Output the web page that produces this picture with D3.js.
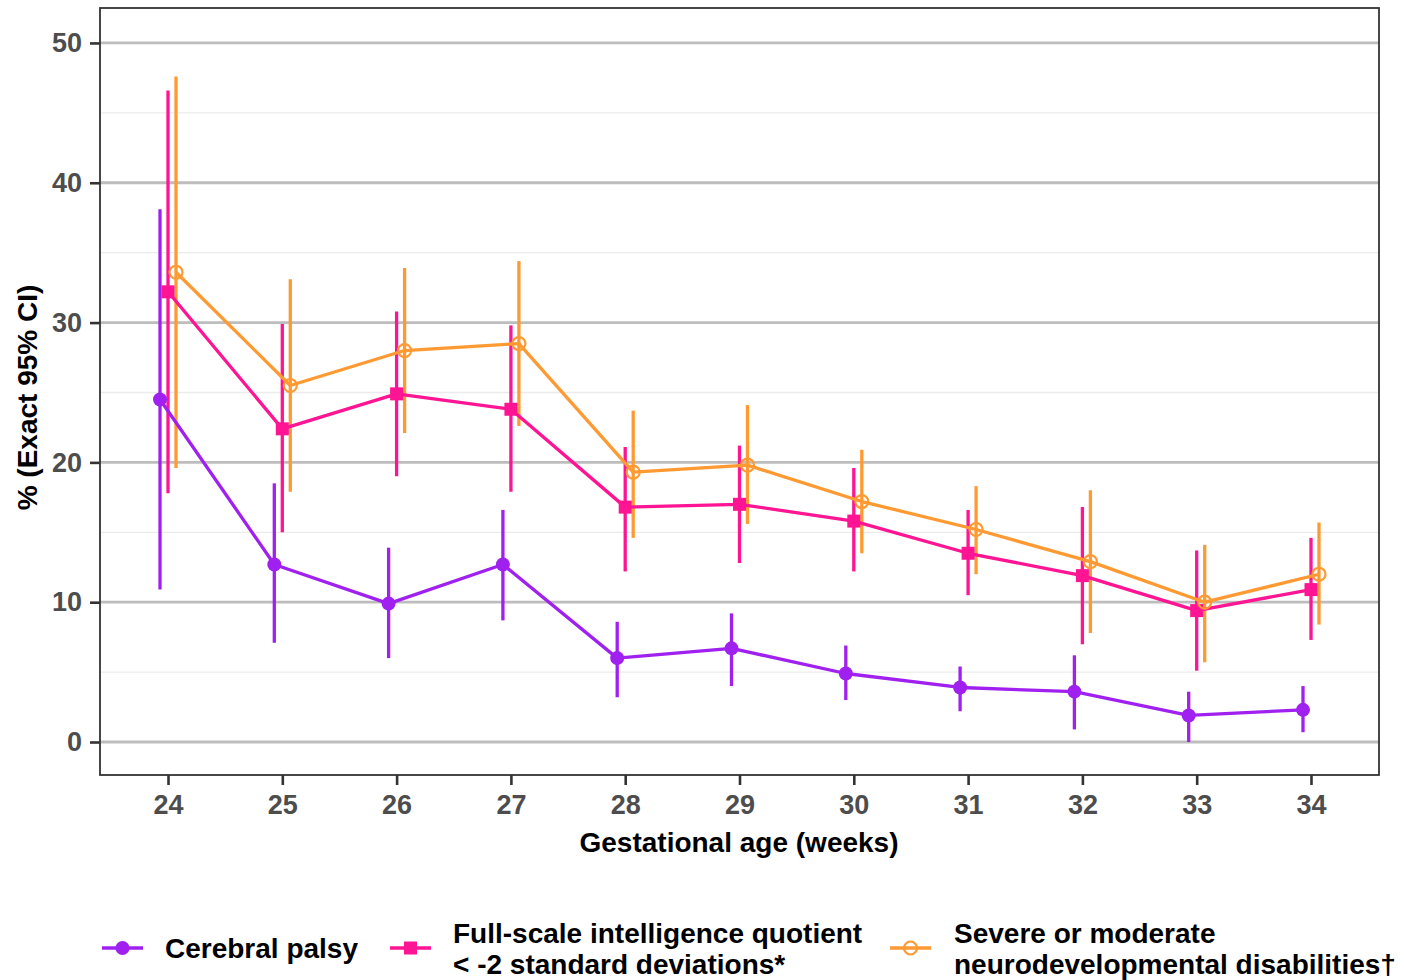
<!DOCTYPE html>
<html>
<head>
<meta charset="utf-8">
<script src="https://cdn.jsdelivr.net/npm/d3@7"></script>
<style>
  html, body { margin: 0; padding: 0; background: #fff; }
  svg { display: block; font-family: "Liberation Sans", Arial, sans-serif; }
</style>
</head>
<body>
<svg id="chart" width="1404" height="980"></svg>
<script>
// ---- Data ----
const weeks = [24, 25, 26, 27, 28, 29, 30, 31, 32, 33, 34];

const cpEst   = [24.5, 12.7, 9.9, 12.7, 6.0, 6.7, 4.9, 3.9, 3.6, 1.9, 2.3];
const cpLow   = [10.9, 7.1, 6.0, 8.7, 3.2, 4.0, 3.0, 2.2, 0.9, 0.0, 0.7];
const cpHigh  = [38.1, 18.5, 13.9, 16.6, 8.6, 9.2, 6.9, 5.4, 6.2, 3.6, 4.0];

const iqEst   = [32.2, 22.4, 24.9, 23.8, 16.8, 17.0, 15.8, 13.5, 11.9, 9.4, 10.9];
const iqLow   = [17.8, 15.0, 19.0, 17.9, 12.2, 12.8, 12.2, 10.5, 7.0, 5.1, 7.3];
const iqHigh  = [46.6, 29.9, 30.8, 29.8, 21.1, 21.2, 19.6, 16.6, 16.8, 13.7, 14.6];

const ndEst   = [33.6, 25.5, 28.0, 28.5, 19.3, 19.8, 17.2, 15.2, 12.9, 10.0, 12.0];
const ndLow   = [19.6, 17.9, 22.1, 22.6, 14.6, 15.6, 13.5, 12.0, 7.8, 5.7, 8.4];
const ndHigh  = [47.6, 33.1, 33.9, 34.4, 23.7, 24.1, 20.9, 18.3, 18.0, 14.1, 15.7];

const seriesNames = ["Cerebral palsy",
  ["Full-scale intelligence quotient", "< -2 standard deviations*"],
  ["Severe or moderate", "neurodevelopmental disabilities\u2020"]];
const seriesColors = ["#A020F0", "#FF1493", "#FF9A33"];
const seriesShapes = ["dot", "square", "ring"];
const yTicks = [0, 10, 20, 30, 40, 50];
const yMinor = [5, 15, 25, 35, 45];
const xLabel = "Gestational age (weeks)";
const yLabel = "% (Exact 95% CI)";

const series = [
  { est: cpEst, low: cpLow, high: cpHigh },
  { est: iqEst, low: iqLow, high: iqHigh },
  { est: ndEst, low: ndLow, high: ndHigh }
].map((s, i) => ({
  name: seriesNames[i], color: seriesColors[i], shape: seriesShapes[i],
  points: weeks.map((w, j) => ({ w, est: s.est[j], low: s.low[j], high: s.high[j] }))
}));

// ---- Layout ----
const svg = d3.select("#chart");
const P = { left: 100, right: 1379, top: 8, bottom: 775 };

const x = d3.scaleLinear().domain([23.405, 34.595]).range([P.left, P.right]);
const y = d3.scaleLinear().domain([-2.36, 52.5]).range([P.bottom, P.top]);
const dodge = [-8, 0, 8];
const FONT = "Liberation Sans, Arial, sans-serif";

// grid
const g = svg.append("g");
g.selectAll("line.minor").data(yMinor).join("line")
  .attr("x1", P.left).attr("x2", P.right)
  .attr("y1", d => y(d)).attr("y2", d => y(d))
  .attr("stroke", "#ebebeb").attr("stroke-width", 1.3);
g.selectAll("line.major").data(yTicks).join("line")
  .attr("x1", P.left).attr("x2", P.right)
  .attr("y1", d => y(d)).attr("y2", d => y(d))
  .attr("stroke", "#bdbdbd").attr("stroke-width", 2.8);

// axes
const yAxis = d3.axisLeft(y).tickValues(yTicks).tickSize(10).tickPadding(8);
const ya = svg.append("g").attr("transform", `translate(${P.left},0)`).call(yAxis);
ya.select(".domain").remove();
ya.selectAll(".tick line").attr("stroke", "#333").attr("stroke-width", 2.6);
ya.selectAll(".tick text").attr("fill", "#4d4d4d").attr("font-size", 27)
  .attr("font-weight", "bold").attr("font-family", FONT);

const xAxis = d3.axisBottom(x).tickValues(weeks).tickSize(10).tickPadding(10);
const xa = svg.append("g").attr("transform", `translate(0,${P.bottom})`).call(xAxis);
xa.select(".domain").remove();
xa.selectAll(".tick line").attr("stroke", "#333").attr("stroke-width", 2.6);
xa.selectAll(".tick text").attr("fill", "#4d4d4d").attr("font-size", 27)
  .attr("font-weight", "bold").attr("font-family", FONT);

// panel border
svg.append("rect").attr("x", P.left).attr("y", P.top)
  .attr("width", P.right - P.left).attr("height", P.bottom - P.top)
  .attr("fill", "none").attr("stroke", "#333").attr("stroke-width", 1.8);

// axis titles
svg.append("text").attr("x", 739).attr("y", 852)
  .attr("text-anchor", "middle").attr("font-size", 28).attr("font-weight", "bold")
  .attr("fill", "#000").text(xLabel);
svg.append("text").attr("transform", `translate(37,${(P.top + P.bottom) / 2 + 6}) rotate(-90)`)
  .attr("text-anchor", "middle").attr("font-size", 28).attr("font-weight", "bold")
  .attr("fill", "#000").text(yLabel);

// error bars
const plot = svg.append("g");
series.forEach((s, i) => {
  plot.append("g").selectAll("line").data(s.points).join("line")
    .attr("x1", d => x(d.w) + dodge[i]).attr("x2", d => x(d.w) + dodge[i])
    .attr("y1", d => y(d.low)).attr("y2", d => y(d.high))
    .attr("stroke", s.color).attr("stroke-width", 3.3);
});
// lines
const line = (i) => d3.line().x(d => x(d.w) + dodge[i]).y(d => y(d.est));
series.forEach((s, i) => {
  plot.append("path").datum(s.points).attr("d", line(i))
    .attr("fill", "none").attr("stroke", s.color).attr("stroke-width", 3.3)
    .attr("stroke-linejoin", "round");
});
// markers
function drawMarker(sel, shape, color, cx, cy) {
  if (shape === "dot") {
    sel.append("circle").attr("cx", cx).attr("cy", cy).attr("r", 7).attr("fill", color);
  } else if (shape === "square") {
    sel.append("rect").attr("x", cx - 6.5).attr("y", cy - 6.5).attr("width", 13).attr("height", 13).attr("fill", color);
  } else {
    sel.append("circle").attr("cx", cx).attr("cy", cy).attr("r", 6.5)
      .attr("fill", "none").attr("stroke", color).attr("stroke-width", 2.2);
  }
}
series.forEach((s, i) => {
  const mg = plot.append("g");
  s.points.forEach(d => drawMarker(mg, s.shape, s.color, x(d.w) + dodge[i], y(d.est)));
});

// legend
const legendItems = [
  { keyX: 102, textX: 165 },
  { keyX: 390, textX: 453 },
  { keyX: 890, textX: 954 }
];
const legY = 948;
series.forEach((s, i) => {
  const L = legendItems[i];
  const lg = svg.append("g");
  lg.append("line").attr("x1", L.keyX).attr("x2", L.keyX + 41)
    .attr("y1", legY).attr("y2", legY).attr("stroke", s.color).attr("stroke-width", 3.3);
  drawMarker(lg, s.shape, s.color, L.keyX + 20.5, legY);
  const names = Array.isArray(s.name) ? s.name : [s.name];
  const t = lg.append("text").attr("font-size", 28).attr("font-weight", "bold").attr("fill", "#000");
  if (names.length === 1) {
    t.append("tspan").attr("x", L.textX).attr("y", legY + 10).text(names[0]);
  } else {
    t.append("tspan").attr("x", L.textX).attr("y", legY - 5).text(names[0]);
    t.append("tspan").attr("x", L.textX).attr("y", legY + 26).text(names[1]);
  }
});
</script>
</body>
</html>
